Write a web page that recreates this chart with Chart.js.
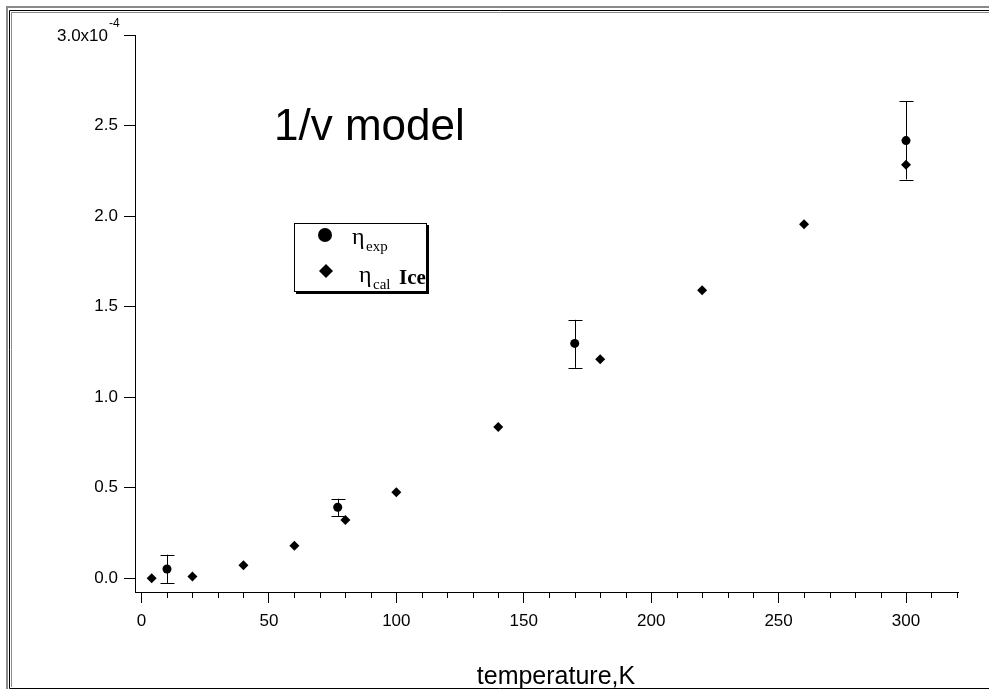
<!DOCTYPE html>
<html lang="en">
  <head>
    <meta charset="UTF-8" />
    <title>1/v model</title>
    <script src="https://cdn.jsdelivr.net/npm/chart.js"></script>
    <style>
      body { margin: 0; background: #fff; overflow: hidden; }
      canvas { display: block; }
    </style>
  </head>
  <body>
    <canvas id="chart" width="989" height="691"></canvas>

    <script>
      // eta values in units of 1e-4
      const calTemps = [4, 20, 40, 60, 80, 100, 140, 180, 220, 260, 300];
      const calEta = [0.0, 0.009, 0.072, 0.18, 0.322, 0.475, 0.835, 1.21, 1.591, 1.955, 2.283];

      const expTemps = [10, 77, 170, 300];
      const expEta = [0.051, 0.392, 1.297, 2.417];
      const expLow = [-0.026, 0.342, 1.162, 2.202];
      const expHigh = [0.13, 0.439, 1.427, 2.634];

      const xTicks = [0, 50, 100, 150, 200, 250, 300];
      const yTicks = [0, 0.5, 1.0, 1.5, 2.0, 2.5, 3.0];

      const SANS = '"Liberation Sans", Arial, sans-serif';
      const SERIF = '"Liberation Serif", "Times New Roman", serif';

      // error bars behind the circles
      const errorBars = {
        id: 'errorBars',
        beforeDatasetsDraw(chart) {
          const { ctx, scales: { x, y } } = chart;
          ctx.save();
          ctx.strokeStyle = '#000';
          ctx.lineWidth = 1;
          expTemps.forEach((t, i) => {
            const px = Math.round(x.getPixelForValue(t)) + 0.5;
            const top = y.getPixelForValue(expHigh[i]);
            const bot = y.getPixelForValue(expLow[i]);
            ctx.beginPath();
            ctx.moveTo(px, top);
            ctx.lineTo(px, bot);
            ctx.moveTo(px - 7, Math.round(top) + 0.5);
            ctx.lineTo(px + 7, Math.round(top) + 0.5);
            ctx.moveTo(px - 7, Math.round(bot) + 0.5);
            ctx.lineTo(px + 7, Math.round(bot) + 0.5);
            ctx.stroke();
          });
          ctx.restore();
        }
      };

      // minor x ticks, frame, legend, text
      const decorations = {
        id: 'decorations',
        afterDraw(chart) {
          const { ctx, scales: { x, y } } = chart;
          ctx.save();

          // minor ticks every 10 K
          ctx.strokeStyle = '#000';
          ctx.lineWidth = 1;
          const bottom = chart.chartArea.bottom;
          for (let t = 10; t <= 320; t += 10) {
            if (t % 50 === 0) continue;
            const px = Math.round(x.getPixelForValue(t)) + 0.5;
            ctx.beginPath();
            ctx.moveTo(px, bottom);
            ctx.lineTo(px, bottom + 6);
            ctx.stroke();
          }

          // top tick label with exponent
          const yTop = y.getPixelForValue(3.0);
          ctx.fillStyle = '#000';
          ctx.textBaseline = 'middle';
          ctx.textAlign = 'right';
          ctx.font = '17px ' + SANS;
          ctx.fillText('3.0x10', 108, yTop + 1);
          ctx.textAlign = 'left';
          ctx.font = '12px ' + SANS;
          ctx.fillText('-4', 109, yTop - 11);

          // big annotation
          ctx.textBaseline = 'alphabetic';
          ctx.font = '44px ' + SANS;
          ctx.fillText('1/v model', 274, 140);

          // x axis title
          ctx.textAlign = 'center';
          ctx.font = '25px ' + SANS;
          ctx.fillText('temperature,K', 556, 684);
          ctx.textAlign = 'left';

          // legend box with shadow
          ctx.fillStyle = '#000';
          ctx.fillRect(296, 225, 133, 69);
          ctx.fillStyle = '#fff';
          ctx.fillRect(294, 223, 133, 69);
          ctx.strokeStyle = '#000';
          ctx.lineWidth = 1;
          ctx.strokeRect(294.5, 223.5, 132, 68);

          ctx.fillStyle = '#000';
          ctx.beginPath();
          ctx.arc(325, 235, 7, 0, Math.PI * 2);
          ctx.fill();
          ctx.beginPath();
          ctx.moveTo(326, 264);
          ctx.lineTo(333, 271);
          ctx.lineTo(326, 278);
          ctx.lineTo(319, 271);
          ctx.closePath();
          ctx.fill();

          ctx.font = '24px ' + SERIF;
          ctx.fillText('\u03b7', 352, 244);
          ctx.font = '15px ' + SERIF;
          ctx.fillText('exp', 366, 251);

          ctx.font = '24px ' + SERIF;
          ctx.fillText('\u03b7', 359, 282);
          ctx.font = '15px ' + SERIF;
          ctx.fillText('cal', 373, 289);
          ctx.font = 'bold 21px ' + SERIF;
          ctx.fillText('Ice', 399, 284);

          // window-like frame
          ctx.lineWidth = 2;
          ctx.strokeStyle = '#8a8a8a';
          ctx.beginPath();
          ctx.moveTo(989, 7);
          ctx.lineTo(7, 7);
          ctx.lineTo(7, 689);
          ctx.stroke();
          ctx.lineWidth = 1;
          ctx.strokeStyle = '#000';
          ctx.beginPath();
          ctx.moveTo(989, 10.5);
          ctx.lineTo(9.5, 10.5);
          ctx.lineTo(9.5, 688.5);
          ctx.lineTo(989, 688.5);
          ctx.stroke();
          ctx.strokeStyle = '#8a8a8a';
          ctx.beginPath();
          ctx.moveTo(989, 12.5);
          ctx.lineTo(11.5, 12.5);
          ctx.lineTo(11.5, 687);
          ctx.stroke();

          ctx.restore();
        }
      };

      new Chart(document.getElementById('chart'), {
        type: 'scatter',
        data: {
          datasets: [
            {
              label: 'eta_exp',
              data: expTemps.map((t, i) => ({ x: t, y: expEta[i] })),
              pointStyle: 'circle',
              pointRadius: 4.5,
              backgroundColor: '#000',
              borderColor: '#000',
              borderWidth: 0
            },
            {
              label: 'eta_cal Ice',
              data: calTemps.map((t, i) => ({ x: t, y: calEta[i] })),
              pointStyle: 'rectRot',
              pointRadius: 5,
              backgroundColor: '#000',
              borderColor: '#000',
              borderWidth: 0
            }
          ]
        },
        options: {
          responsive: false,
          animation: false,
          layout: { padding: { top: 35, right: 31, left: 0, bottom: 0 } },
          plugins: {
            legend: { display: false },
            tooltip: { enabled: false }
          },
          scales: {
            x: {
              type: 'linear',
              min: -2.55,
              max: 320.4,
              afterFit: (s) => { s.height = 99; },
              afterBuildTicks: (s) => {
                s.ticks = xTicks.map(v => ({ value: v }));
              },
              ticks: {
                autoSkip: false,
                maxRotation: 0,
                padding: 8,
                color: '#000',
                font: { family: SANS, size: 17 }
              },
              grid: {
                drawOnChartArea: false,
                drawTicks: true,
                tickLength: 11,
                tickColor: '#000'
              },
              border: { display: true, color: '#000', width: 1 }
            },
            y: {
              type: 'linear',
              min: -0.076,
              max: 3.0,
              afterFit: (s) => { s.width = 135; },
              afterBuildTicks: (s) => {
                s.ticks = yTicks.map(v => ({ value: v }));
              },
              ticks: {
                autoSkip: false,
                padding: 6,
                color: '#000',
                font: { family: SANS, size: 17 },
                callback: (v) => v === 3.0 ? '' : v.toFixed(1)
              },
              grid: {
                drawOnChartArea: false,
                drawTicks: true,
                tickLength: 11,
                tickColor: '#000'
              },
              border: { display: true, color: '#000', width: 1 }
            }
          }
        },
        plugins: [errorBars, decorations]
      });
    </script>
  </body>
</html>
